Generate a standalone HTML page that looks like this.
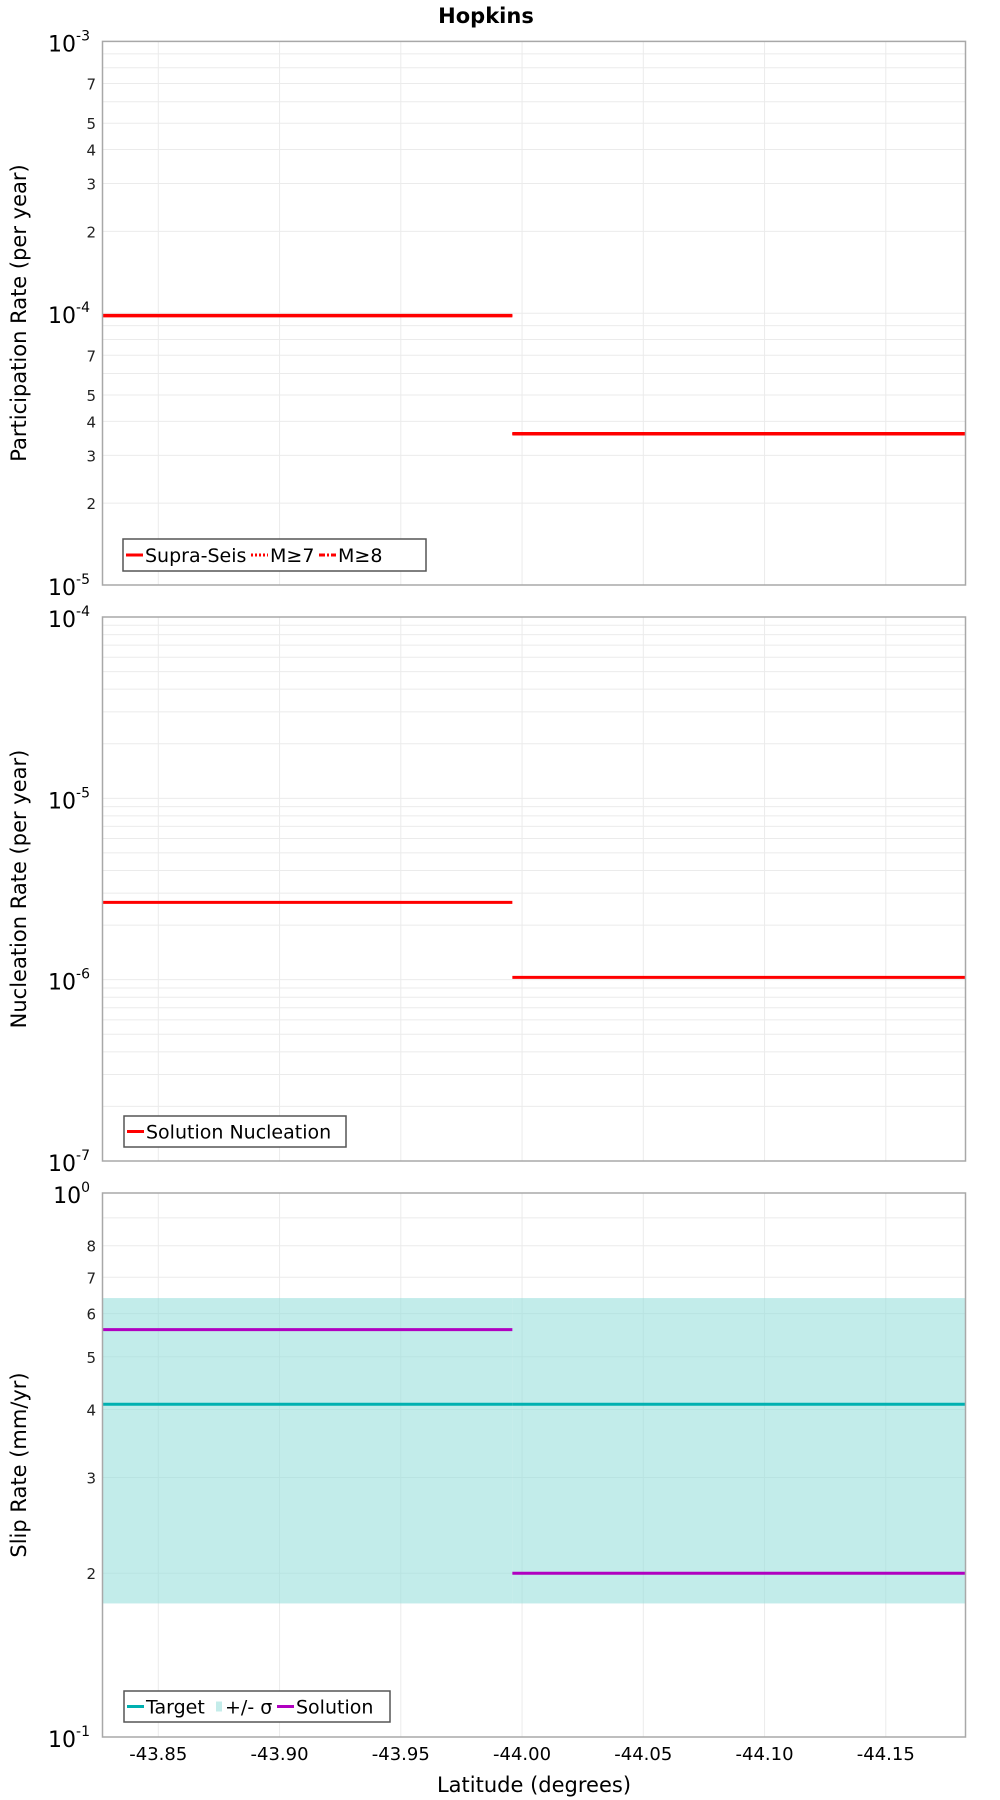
<!DOCTYPE html>
<html><head><meta charset="utf-8"><style>
html,body{margin:0;padding:0;background:#fff;}
svg{display:block;font-family:"DejaVu Sans","Liberation Sans",sans-serif;}
</style></head><body>
<svg id="chart" width="1000" height="1800" viewBox="0 0 1000 1800" xmlns="http://www.w3.org/2000/svg">
<text x="486" y="23" text-anchor="middle" font-weight="bold" font-size="21">Hopkins</text>
<g id="root"></g>
</svg>
<script>
// ---- data ----
const xTicks = [-43.85, -43.90, -43.95, -44.00, -44.05, -44.10, -44.15];
const xTickLabels = ["-43.85","-43.90","-43.95","-44.00","-44.05","-44.10","-44.15"];
const segStart = [-43.827, -43.996];
const segEnd = [-43.996, -44.183];
const partSupra = [9.8e-5, 3.6e-5];
const partM7 = [9.8e-5, 3.6e-5];
const partM8 = [9.8e-5, 3.6e-5];
const nuclSolution = [2.67e-6, 1.03e-6];
const slipTarget = [0.409, 0.409];
const slipSigmaLow = [0.176, 0.176];
const slipSigmaHigh = [0.641, 0.641];
const slipSolution = [0.561, 0.2];
const panel1MinorLabels = [2,3,4,5,7];
const panel3MinorLabels = [2,3,4,5,6,7,8];

const NS = "http://www.w3.org/2000/svg";
const root = document.getElementById('root');
const L = 102.5, R = 965.5;
function xScale(lat){ return 158.3 + (-43.85 - lat) / 0.05 * 121.25; }
function mk(tag, attrs, parent){ const e = document.createElementNS(NS, tag); for (const k in attrs) e.setAttribute(k, attrs[k]); (parent||root).appendChild(e); return e; }

function panel(top, bot, minExp, maxExp, minorLabels, name){
  const g = mk('g', {});
  
  
  const y = v => bot - (Math.log10(v) - minExp) / (maxExp - minExp) * (bot - top);
  // grid
  for (let e = minExp; e < maxExp; e++) {
    for (let m = 1; m <= 9; m++) {
      const v = m * Math.pow(10, e); const yy = y(v);
      if (m > 1 || e > minExp) { const gl = mk('line', {x1:L, x2:R, y1:yy, y2:yy, stroke:'#ebebeb', 'stroke-width':1}, g);
          }
    }
  }
  xTicks.forEach(t => { const gl = mk('line', {x1:xScale(t), x2:xScale(t), y1:top, y2:bot, stroke:'#ebebeb', 'stroke-width':1}, g);
      });
  // y labels
  for (let e = minExp; e <= maxExp; e++) {
    const t = mk('text', {x:90, y:y(Math.pow(10,e)) + 10, 'text-anchor':'end', 'font-size':22, fill:'#000'}, g);
     
    t.textContent = '10';
    const s = mk('tspan', {dy:-11, 'font-size':14}, t); s.textContent = String(e);
    if (e < maxExp) minorLabels.forEach(m => {
      const tt = mk('text', {x:96, y:y(m*Math.pow(10,e)) + 6, 'text-anchor':'end', 'font-size':15, fill:'#222'}, g);
       
      tt.textContent = String(m);
    });
  }
  return {g, y};
}
function frame(g, top, bot){
  const r = mk('rect', {x:L, y:top, width:R-L, height:bot-top, fill:'none', stroke:'#a8a8a8', 'stroke-width':1.5}, g);
   
}
function ylabel(text, cy, name){
  const t = mk('text', {x:0, y:0, transform:`translate(26,${cy}) rotate(-90)`, 'text-anchor':'middle', 'font-size':21}, root);
   
  t.textContent = text;
}
function seg(g, arr, color, w, dash, name){
  arr.forEach((v, i) => {
    const l = mk('line', {x1:xScale(segStart[i]), x2:xScale(segEnd[i]), y1:g.y(v), y2:g.y(v), stroke:color, 'stroke-width':w}, g.g);
    if (dash) l.setAttribute('stroke-dasharray', dash);
     
  });
}
function legend(x, y, w, h, items, name){
  const g = mk('g', {});
   
  const r = mk('rect', {x, y, width:w, height:h, fill:'#fff', stroke:'#555', 'stroke-width':1.5}, g);
   
  let cx = x + 3;
  items.forEach(it => {
    const cy = y + h/2;
    if (it.rect) { const s = mk('rect', {x:cx+3, y:cy-5, width:6, height:10, fill:it.color}, g);
        cx += 12; }
    else { const s = mk('line', {x1:cx, x2:cx+17, y1:cy, y2:cy, stroke:it.color, 'stroke-width':3}, g);
      if (it.dash) s.setAttribute('stroke-dasharray', it.dash);
        cx += 19; }
    const t = mk('text', {x:cx, y:cy+7, 'font-size':19}, g);
     
    t.textContent = it.label;
    cx += it.w;
  });
}

// Panel 1
const p1 = panel(41.4, 585, -5, -3, panel1MinorLabels, 'participation');
seg(p1, partSupra, '#ff0000', 3.5, null, 'supra-seis-line');
seg(p1, partM7, '#ff0000', 2, '2,2', 'm7-line');
seg(p1, partM8, '#ff0000', 2, '6,2,2,2', 'm8-line');
frame(p1.g, 41.4, 585);
ylabel('Participation Rate (per year)', 313, 'y-axis-title-participation');
legend(123, 539, 303, 32, [{label:'Supra-Seis', color:'#f00', w:106},{label:'M≥7', color:'#f00', dash:'2,2', w:49},{label:'M≥8', color:'#f00', dash:'6,2,2,2', w:50}], 'legend-participation');

// Panel 2
const p2 = panel(617, 1161, -7, -4, [], 'nucleation');
seg(p2, nuclSolution, '#ff0000', 3, null, 'nucleation-line');
frame(p2.g, 617, 1161);
ylabel('Nucleation Rate (per year)', 889, 'y-axis-title-nucleation');
legend(124, 1116, 222, 31, [{label:'Solution Nucleation', color:'#f00', w:200}], 'legend-nucleation');

// Panel 3
const p3 = panel(1193, 1737, -1, 0, panel3MinorLabels, 'slip');
slipSigmaLow.forEach((v, i) => {
  const yT = p3.y(slipSigmaHigh[i]), yB = p3.y(v);
  const r = mk('rect', {x:xScale(segStart[i]), y:yT, width:xScale(segEnd[i]) - xScale(segStart[i]), height:yB - yT, fill:'#8fdcd9', 'fill-opacity':0.55}, p3.g);
   
});
seg(p3, slipTarget, '#00b0b0', 3, null, 'target-line');
seg(p3, slipSolution, '#b000c0', 3, null, 'solution-line');
frame(p3.g, 1193, 1737);
ylabel('Slip Rate (mm/yr)', 1465, 'y-axis-title-slip');
legend(124, 1691, 266, 31, [{label:'Target', color:'#00b0b0', w:67},{label:'+/- σ', color:'#c4ecea', rect:true, w:52},{label:'Solution', color:'#b000c0', w:80}], 'legend-slip');

// X axis
xTicks.forEach((t, i) => {
  const tx = mk('text', {x:xScale(t), y:1760, 'text-anchor':'middle', 'font-size':18}, root);
   
  tx.textContent = xTickLabels[i];
});
const xl = mk('text', {x:534, y:1792, 'text-anchor':'middle', 'font-size':21}, root);
 
xl.textContent = 'Latitude (degrees)';
</script>
</body></html>
